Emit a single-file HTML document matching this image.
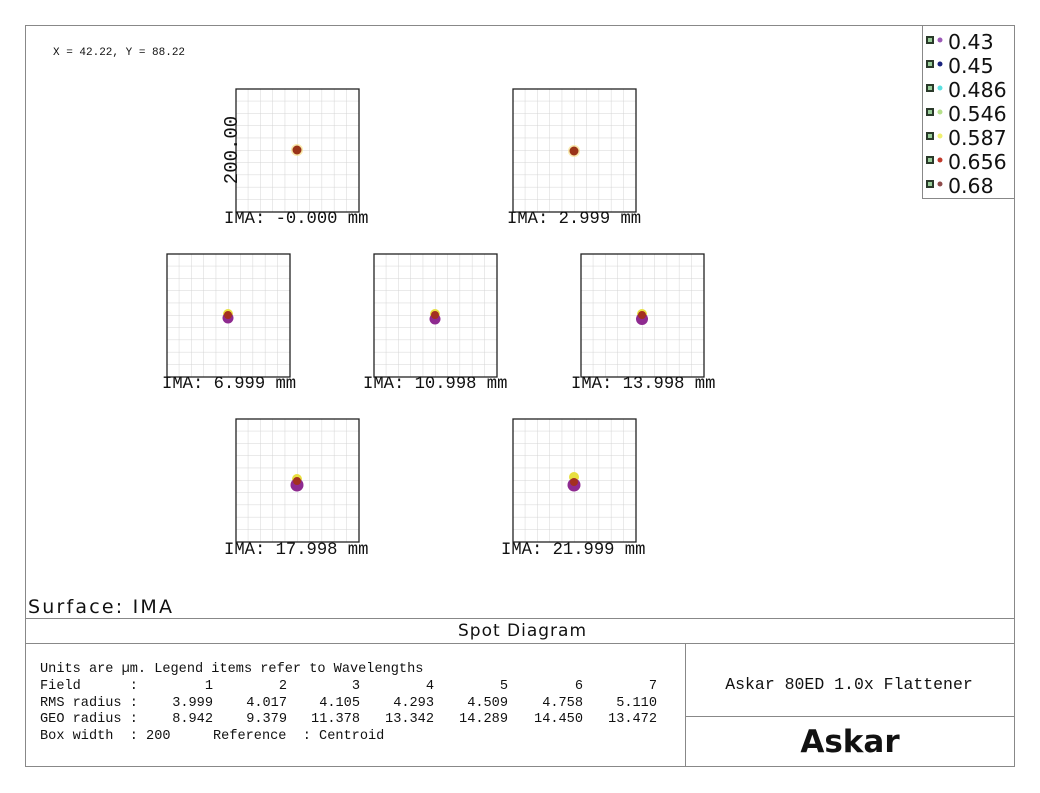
<!DOCTYPE html>
<html><head><meta charset="utf-8"><style>
html,body{margin:0;padding:0;background:#fff;width:1040px;height:793px;overflow:hidden}
svg{display:block}
text{white-space:pre}
.m{font-family:"Liberation Mono","DejaVu Sans Mono",monospace;fill:#111}
.s{font-family:"DejaVu Sans","Liberation Sans",sans-serif;fill:#111}
</style></head><body>
<svg width="1040" height="793" viewBox="0 0 1040 793" xmlns="http://www.w3.org/2000/svg" xml:space="preserve">
<defs>
<pattern id="g" x="0" y="0" width="12.3" height="12.3" patternUnits="userSpaceOnUse">
<path d="M12.3 0V12.3M0 12.3H12.3" stroke="#d4d4d4" stroke-width="1" fill="none"/>
</pattern>
<g id="box">
<rect x="0" y="0" width="123" height="123" fill="url(#g)"/>
<rect x="0" y="0" width="123" height="123" fill="none" stroke="#222" stroke-width="1.3"/>
</g>
</defs>
<rect x="25.5" y="25.5" width="989" height="741" fill="none" stroke="#888" stroke-width="1"/>
<text class="m" x="53" y="55" font-size="11">X = 42.22, Y = 88.22</text>
<rect x="922.5" y="25.5" width="92" height="173" fill="#fff" stroke="#888"/>
<g class="s" font-size="20.5">
<g transform="translate(926,36)"><rect width="8" height="8" fill="#2a3a2a"/><rect x="2" y="2" width="4" height="4" fill="#9c9"/><circle cx="14" cy="4" r="2.5" fill="#9b59b6"/><text x="22" y="13">0.43</text></g>
<g transform="translate(926,60)"><rect width="8" height="8" fill="#2a3a2a"/><rect x="2" y="2" width="4" height="4" fill="#9c9"/><circle cx="14" cy="4" r="2.5" fill="#1a237e"/><text x="22" y="13">0.45</text></g>
<g transform="translate(926,84)"><rect width="8" height="8" fill="#2a3a2a"/><rect x="2" y="2" width="4" height="4" fill="#9c9"/><circle cx="14" cy="4" r="2.5" fill="#5ce0e0"/><text x="22" y="13">0.486</text></g>
<g transform="translate(926,108)"><rect width="8" height="8" fill="#2a3a2a"/><rect x="2" y="2" width="4" height="4" fill="#9c9"/><circle cx="14" cy="4" r="2.5" fill="#b5e08a"/><text x="22" y="13">0.546</text></g>
<g transform="translate(926,132)"><rect width="8" height="8" fill="#2a3a2a"/><rect x="2" y="2" width="4" height="4" fill="#9c9"/><circle cx="14" cy="4" r="2.5" fill="#f0f070"/><text x="22" y="13">0.587</text></g>
<g transform="translate(926,156)"><rect width="8" height="8" fill="#2a3a2a"/><rect x="2" y="2" width="4" height="4" fill="#9c9"/><circle cx="14" cy="4" r="2.5" fill="#c0392b"/><text x="22" y="13">0.656</text></g>
<g transform="translate(926,180)"><rect width="8" height="8" fill="#2a3a2a"/><rect x="2" y="2" width="4" height="4" fill="#9c9"/><circle cx="14" cy="4" r="2.5" fill="#8e4b4b"/><text x="22" y="13">0.68</text></g>
</g>
<use href="#box" x="236" y="89"/>
<use href="#box" x="513" y="89"/>
<use href="#box" x="167" y="254"/>
<use href="#box" x="374" y="254"/>
<use href="#box" x="581" y="254"/>
<use href="#box" x="236" y="419"/>
<use href="#box" x="513" y="419"/>
<circle cx="297" cy="150" r="6" fill="#f6e08a" opacity=".7"/><circle cx="297" cy="150" r="4.5" fill="#9a3418"/>
<circle cx="574" cy="151" r="6" fill="#f6e08a" opacity=".7"/><circle cx="574" cy="151" r="4.5" fill="#9a3418"/>
<circle cx="228" cy="314" r="5" fill="#e8e040"/><circle cx="228" cy="318" r="5.5" fill="#8e2a90"/><circle cx="228" cy="315" r="4" fill="#a33020"/>
<circle cx="435" cy="314" r="5" fill="#e8e040"/><circle cx="435" cy="319" r="5.5" fill="#8e2a90"/><circle cx="435" cy="315" r="4" fill="#a33020"/>
<circle cx="642" cy="314" r="5" fill="#e8e040"/><circle cx="642" cy="319" r="6" fill="#8e2a90"/><circle cx="642" cy="315" r="4" fill="#a33020"/>
<circle cx="297" cy="479" r="5" fill="#e8e040"/><circle cx="297" cy="485" r="6.5" fill="#8e2a90"/><circle cx="297" cy="481" r="4" fill="#a33020"/>
<circle cx="574" cy="477" r="5" fill="#e8e040"/><circle cx="574" cy="485" r="6.5" fill="#8e2a90"/><circle cx="574" cy="482" r="4" fill="#a33020"/>
<text class="m" font-size="19" transform="translate(237,150) rotate(-90)" text-anchor="middle">200.00</text>
<g class="m" font-size="17.2">
<text x="224" y="223">IMA: -0.000 mm</text>
<text x="507" y="223">IMA: 2.999 mm</text>
<text x="162" y="388">IMA: 6.999 mm</text>
<text x="363" y="388">IMA: 10.998 mm</text>
<text x="571" y="388">IMA: 13.998 mm</text>
<text x="224" y="554">IMA: 17.998 mm</text>
<text x="501" y="554">IMA: 21.999 mm</text>
</g>
<text class="s" x="28" y="613" font-size="19" textLength="144">Surface: IMA</text>
<line x1="25" y1="618.5" x2="1015" y2="618.5" stroke="#888"/>
<text class="s" x="458" y="636" font-size="17" textLength="128">Spot Diagram</text>
<line x1="25" y1="643.5" x2="1015" y2="643.5" stroke="#888"/>
<line x1="685.5" y1="643" x2="685.5" y2="767" stroke="#888"/>
<line x1="685" y1="716.5" x2="1015" y2="716.5" stroke="#888"/>
<g class="m" font-size="13.6">
<text x="40" y="672">Units are µm. Legend items refer to Wavelengths</text>
<text x="40" y="689">Field      :</text>
<text x="40" y="706">RMS radius :</text>
<text x="40" y="722">GEO radius :</text>
<text x="40" y="739">Box width  : 200</text>
<text x="213" y="739">Reference  : Centroid</text>
<g text-anchor="end">
<text x="213" y="689">1</text><text x="287" y="689">2</text><text x="360" y="689">3</text><text x="434" y="689">4</text><text x="508" y="689">5</text><text x="583" y="689">6</text><text x="657" y="689">7</text>
<text x="213" y="706">3.999</text><text x="287" y="706">4.017</text><text x="360" y="706">4.105</text><text x="434" y="706">4.293</text><text x="508" y="706">4.509</text><text x="583" y="706">4.758</text><text x="657" y="706">5.110</text>
<text x="213" y="722">8.942</text><text x="287" y="722">9.379</text><text x="360" y="722">11.378</text><text x="434" y="722">13.342</text><text x="508" y="722">14.289</text><text x="583" y="722">14.450</text><text x="657" y="722">13.472</text>
</g>
</g>
<text class="m" x="849" y="689" font-size="16.5" text-anchor="middle">Askar 80ED 1.0x Flattener</text>
<text x="850" y="752" font-family="'DejaVu Sans','Liberation Sans',sans-serif" font-weight="bold" font-size="31" text-anchor="middle" fill="#111">Askar</text>
</svg>
</body></html>
